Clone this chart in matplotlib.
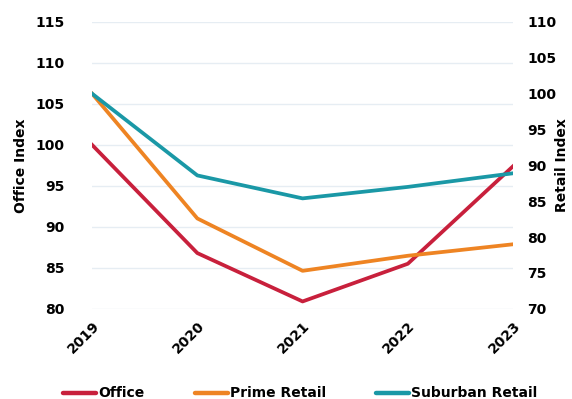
import matplotlib
matplotlib.use("Agg")
import matplotlib.pyplot as plt

years = ["2019", "2020", "2021", "2022", "2023"]
office = [100, 86.8, 80.9, 85.5, 97.4]
prime_retail = [100, 82.6, 75.3, 77.4, 79.0]
suburban_retail = [100, 88.6, 85.4, 87.0, 88.9]

left_ticks = [80, 85, 90, 95, 100, 105, 110, 115]
right_ticks = [70, 75, 80, 85, 90, 95, 100, 105, 110]

c_office = "#C8203C"
c_prime = "#EE8423"
c_sub = "#1A98A6"

plt.rcParams['font.family'] = ['DejaVu Sans']
plt.rcParams['font.weight'] = 'bold'

fig = plt.figure(figsize=(5.72, 3.99), dpi=100)
ax = fig.add_axes([0.161, 0.226, 0.736, 0.719])
ax2 = ax.twinx()

x = list(range(len(years)))
l1, = ax.plot(x, office, color=c_office, lw=2.7, label="Office")
l2, = ax2.plot(x, prime_retail, color=c_prime, lw=2.7, label="Prime Retail")
l3, = ax2.plot(x, suburban_retail, color=c_sub, lw=2.7, label="Suburban Retail")

ax.set_xlim(0, 4)
ax.set_ylim(80, 115)
ax2.set_ylim(70, 110)
ax.set_yticks(left_ticks)
ax2.set_yticks(right_ticks)
ax.set_xticks(x)
ax.set_xticklabels(years, rotation=45, ha='right', rotation_mode='anchor', fontsize=10, fontweight='bold')
ax.tick_params(axis='x', length=0, pad=7)
ax.tick_params(axis='y', length=0, labelsize=10, pad=20)
ax2.tick_params(axis='y', length=0, labelsize=10, pad=10)
for t in ax.get_yticklabels() + ax2.get_yticklabels():
    t.set_fontweight('bold')
ax.grid(axis='y', color="#E6EDF3", lw=1)
ax.set_axisbelow(True)
for a in (ax, ax2):
    for s in a.spines.values():
        s.set_visible(False)

ax.set_ylabel("Office Index", fontsize=10, fontweight='bold')
ax.yaxis.set_label_coords(-0.152, 0.5)
ax2.set_ylabel("Retail Index", fontsize=10, fontweight='bold', rotation=90)
ax2.yaxis.set_label_coords(1.1, 0.5)

leg = fig.legend(handles=[l1, l2, l3], loc='lower center', bbox_to_anchor=(0.525, -0.035), ncol=3,
                 frameon=False, fontsize=10, handlelength=2.4, handletextpad=0.15, columnspacing=3.6)
for t in leg.get_texts():
    t.set_fontweight('bold')
for h in leg.get_lines():
    h.set_linewidth(3.2)
    h.set_solid_capstyle('round')

fig.savefig("out.png", dpi=100)
